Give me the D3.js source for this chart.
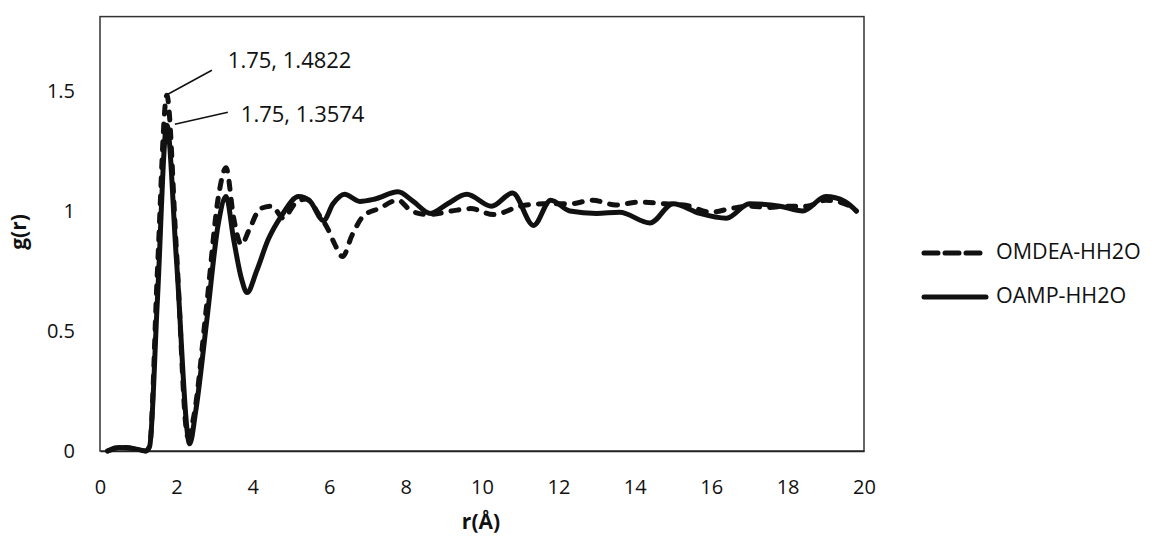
<!DOCTYPE html>
<html>
<head>
<meta charset="utf-8">
<script src="https://cdn.jsdelivr.net/npm/d3@7"></script>
<style>
  html, body { margin: 0; padding: 0; background: #fff; }
  svg { display: block; font-family: "Open Sans", "Liberation Sans", sans-serif; }
</style>
</head>
<body>
<svg id="chart" width="1159" height="538"></svg>
<script>
// ---- data ----
const seriesNames = ["OMDEA-HH2O", "OAMP-HH2O"];

const omdeaR = [0.2, 0.5, 0.9, 1.2, 1.3, 1.5, 1.75, 2.0, 2.3, 2.45, 2.8, 3.1, 3.3, 3.5, 3.7, 3.9, 4.2, 4.5, 4.8, 5.1, 5.4, 5.75, 5.95, 6.15, 6.35, 6.6, 6.9, 7.3, 7.8, 8.15, 8.6, 9.2, 9.7, 10.3, 11.0, 11.6, 12.3, 12.9, 13.5, 14.1, 14.8, 15.3, 16.0, 16.5, 17.0, 17.5, 18.0, 18.5, 19.0, 19.5, 19.8];
const omdeaG = [0.0, 0.015, 0.01, 0.0, 0.02, 0.74, 1.4822, 0.84, 0.06, 0.14, 0.62, 1.06, 1.18, 0.97, 0.86, 0.92, 1.01, 1.02, 0.97, 1.03, 1.05, 0.98, 0.93, 0.86, 0.81, 0.9, 0.98, 1.01, 1.045, 1.0, 0.985, 1.0, 1.01, 0.985, 1.02, 1.03, 1.03, 1.045, 1.025, 1.037, 1.03, 1.025, 0.995, 1.01, 1.02, 1.015, 1.02, 1.02, 1.045, 1.03, 1.0];

const oampR = [0.2, 0.5, 0.9, 1.2, 1.3, 1.5, 1.75, 2.0, 2.35, 2.5, 2.8, 3.1, 3.3, 3.5, 3.7, 3.85, 4.1, 4.4, 4.75, 5.2, 5.5, 5.85, 6.1, 6.4, 6.8, 7.2, 7.8, 8.2, 8.65, 9.1, 9.6, 10.25, 10.8, 11.35, 11.8, 12.3, 13.0, 13.6, 14.4, 15.0, 15.7, 16.4, 17.0, 17.8, 18.4, 19.0, 19.5, 19.8];
const oampG = [0.0, 0.015, 0.01, 0.0, 0.02, 0.62, 1.3574, 0.8, 0.03, 0.16, 0.55, 0.95, 1.06, 0.88, 0.72, 0.66, 0.75, 0.88, 0.98, 1.06, 1.04, 0.96, 1.03, 1.07, 1.04, 1.05, 1.08, 1.04, 0.99, 1.03, 1.07, 1.02, 1.075, 0.94, 1.045, 1.0, 0.99, 0.995, 0.95, 1.03, 0.99, 0.97, 1.03, 1.02, 1.0, 1.06, 1.04, 1.0];

const xTicks = [0, 2, 4, 6, 8, 10, 12, 14, 16, 18, 20];
const yTicks = [0, 0.5, 1, 1.5];
const xTitle = "r(Å)";
const yTitle = "g(r)";
const peakLabels = ["1.75, 1.4822", "1.75, 1.3574"];
const peakX = [1.75, 1.75];
const peakY = [1.4822, 1.3574];

// ---- layout ----
const svg = d3.select("#chart");
const x = d3.scaleLinear().domain([0, 20]).range([100, 864]);
const y = d3.scaleLinear().domain([0, 1.5]).range([451, 91]);
const yTop = 1.81;

// plot area border
svg.append("rect")
  .attr("x", x(0)).attr("y", y(yTop))
  .attr("width", x(20) - x(0)).attr("height", y(0) - y(yTop))
  .attr("fill", "none").attr("stroke", "#333").attr("stroke-width", 1.5);

// axes (labels only, Excel style)
const xAxis = svg.append("g").attr("transform", `translate(0,${y(0)})`)
  .call(d3.axisBottom(x).tickValues(xTicks).tickSize(0).tickPadding(29).tickFormat(d3.format("d")));
xAxis.select(".domain").attr("stroke", "#222").attr("stroke-width", 1.5);
xAxis.selectAll("text").attr("font-size", 20).attr("fill", "#111").attr("font-family", "Open Sans");

const yAxis = svg.append("g").attr("transform", `translate(${x(0)},0)`)
  .call(d3.axisLeft(y).tickValues(yTicks).tickSize(0).tickPadding(25).tickFormat(d => d));
yAxis.select(".domain").remove();
yAxis.selectAll("text").attr("font-size", 20).attr("fill", "#111").attr("font-family", "Open Sans");

// axis titles
svg.append("text").attr("x", 481).attr("y", 523)
  .attr("text-anchor", "middle").attr("dominant-baseline", "middle")
  .attr("font-size", 21).attr("font-weight", "bold").attr("fill", "#111").text(xTitle);
svg.append("text").attr("transform", "translate(20,232) rotate(-90)")
  .attr("text-anchor", "middle").attr("dominant-baseline", "middle")
  .attr("font-size", 21).attr("font-weight", "bold").attr("fill", "#111").text(yTitle);

// lines
const line = d3.line().x(d => x(d[0])).y(d => y(d[1])).curve(d3.curveMonotoneX);
const omdea = omdeaR.map((r, i) => [r, omdeaG[i]]);
const oamp = oampR.map((r, i) => [r, oampG[i]]);

svg.append("path").datum(oamp).attr("d", line)
  .attr("fill", "none").attr("stroke", "#111").attr("stroke-width", 5)
  .attr("stroke-linejoin", "round").attr("stroke-linecap", "round");
svg.append("path").datum(omdea).attr("d", line)
  .attr("fill", "none").attr("stroke", "#111").attr("stroke-width", 5)
  .attr("stroke-dasharray", "8,10").attr("stroke-linecap", "round").attr("stroke-linejoin", "round");

// data labels with leader lines
const labelOffsets = [[45, -25, 61, -33], [61, -13, 74, -9]];
peakLabels.forEach((t, i) => {
  const px = x(peakX[i]), py = y(peakY[i]);
  const o = labelOffsets[i];
  svg.append("line")
    .attr("x1", px + (i === 0 ? 1 : 8)).attr("y1", py - 1)
    .attr("x2", px + o[0]).attr("y2", py + o[1])
    .attr("stroke", "#111").attr("stroke-width", 1.5);
  svg.append("text").attr("x", px + o[2]).attr("y", py + o[3])
    .attr("dominant-baseline", "middle").attr("font-size", 22).attr("fill", "#111").text(t);
});

// legend
const lg = svg.append("g");
const legendY = [253, 297];
seriesNames.forEach((name, i) => {
  const l = lg.append("line").attr("x1", 924).attr("x2", 986)
    .attr("y1", legendY[i]).attr("y2", legendY[i])
    .attr("stroke", "#111").attr("stroke-width", 5).attr("stroke-linecap", "round");
  if (i === 0) l.attr("stroke-dasharray", "14,7");
  lg.append("text").attr("x", 996).attr("y", legendY[i])
    .attr("dominant-baseline", "middle").attr("font-size", 21.5).attr("fill", "#111").text(name);
});
</script>
</body>
</html>
